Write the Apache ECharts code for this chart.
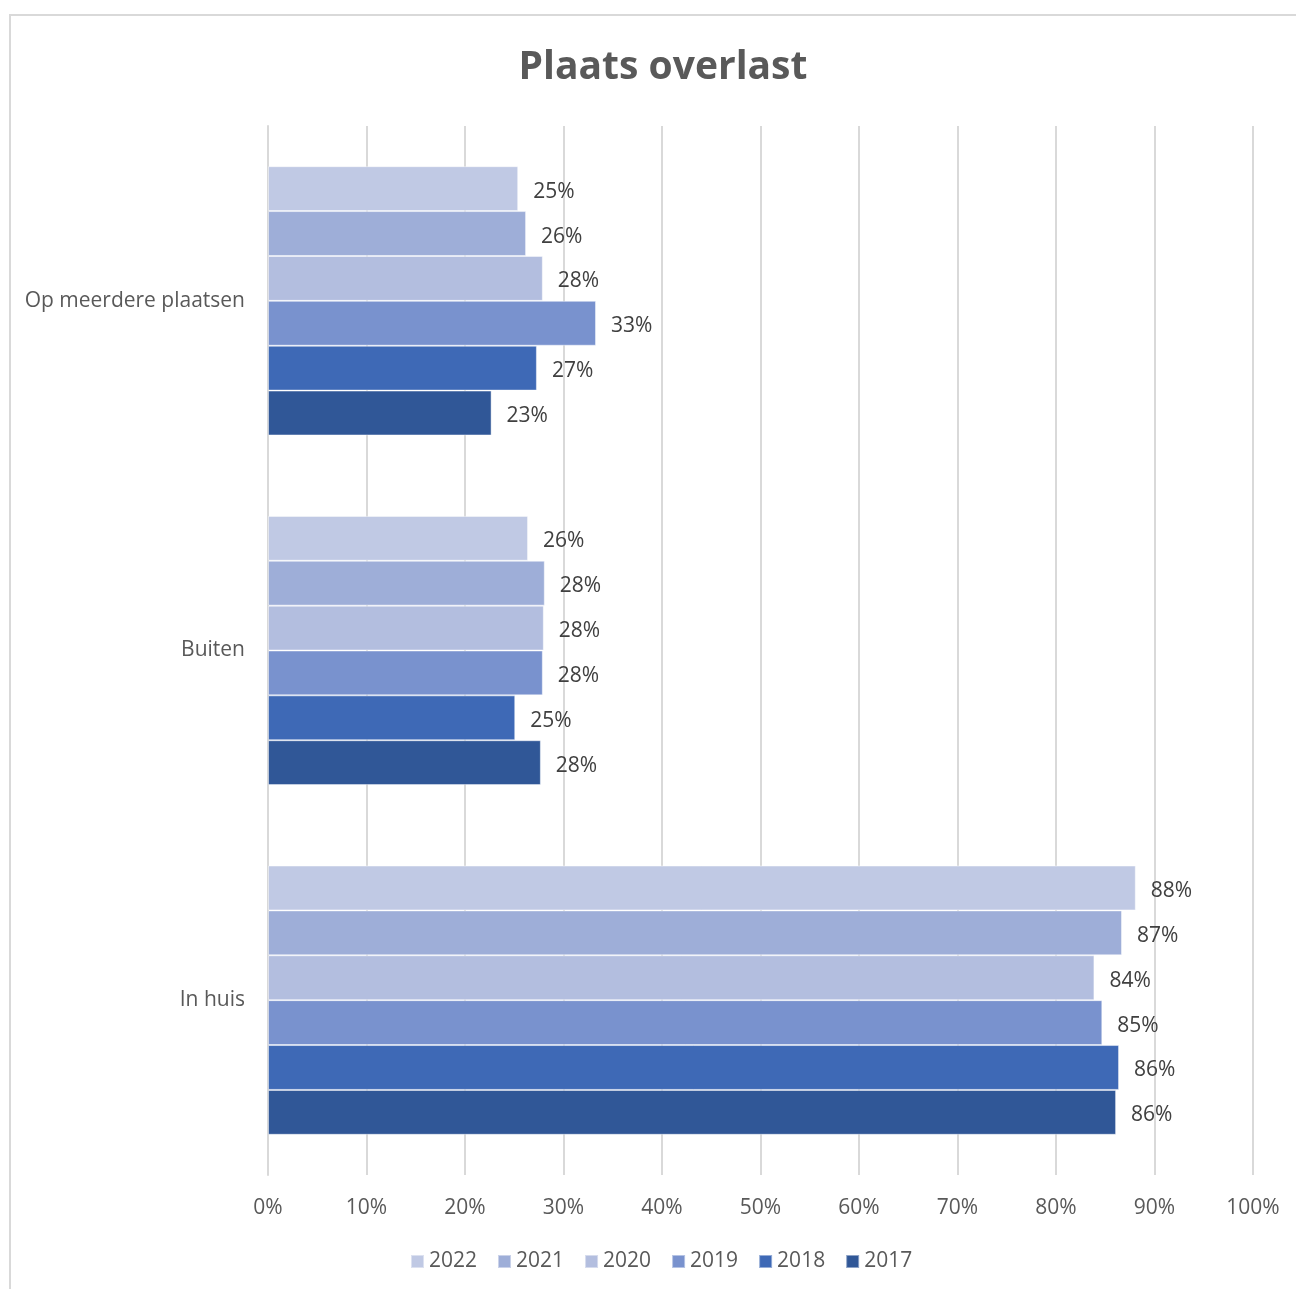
<!DOCTYPE html>
<html>
<head>
<meta charset="utf-8">
<script src="https://cdn.jsdelivr.net/npm/echarts@6/dist/echarts.min.js"></script>
<style>
html,body{margin:0;padding:0;background:#fff;}
#chart{width:1296px;height:1289px;}
</style>
</head>
<body>
<div id="chart"></div>
<script>
const categories = ['In huis', 'Buiten', 'Op meerdere plaatsen'];
const years = ['2022', '2021', '2020', '2019', '2018', '2017'];
const v2022 = [88.1, 26.4, 25.4];
const v2021 = [86.7, 28.1, 26.2];
const v2020 = [83.9, 28.0, 27.9];
const v2019 = [84.7, 27.9, 33.3];
const v2018 = [86.4, 25.1, 27.3];
const v2017 = [86.1, 27.7, 22.7];
const xTicks = [0, 10, 20, 30, 40, 50, 60, 70, 80, 90, 100];

const valuesByYear = {'2022': v2022, '2021': v2021, '2020': v2020, '2019': v2019, '2018': v2018, '2017': v2017};
const colors = {'2022': '#C0C9E4', '2021': '#9EAED8', '2020': '#B3BEDF', '2019': '#7992CE', '2018': '#3E69B6', '2017': '#305797'};
const FONT = '"Open Sans", "Noto Sans", sans-serif';

const series = years.map(y => ({
  name: y,
  type: 'bar',
  data: valuesByYear[y],
  barGap: '0%',
  barCategoryGap: '23%',
  itemStyle: { color: colors[y], borderColor: 'rgba(255,255,255,0.45)', borderWidth: 1 },
  label: {
    show: true, position: 'right', distance: 15, offset: [0, 3],
    color: '#404040', fontSize: 21, fontFamily: FONT,
    formatter: p => Math.round(p.value) + '%'
  }
}));

const chart = echarts.init(document.getElementById('chart'));
chart.setOption({
  animation: false,
  backgroundColor: '#fff',
  color: years.map(y => colors[y]),
  title: {
    text: 'Plaats overlast', left: 658, top: 43, textAlign: 'center',
    textStyle: { fontSize: 39, fontWeight: 'bold', color: '#595959', fontFamily: FONT }
  },
  graphic: [{
    type: 'rect', shape: { x: 10, y: 15, width: 1400, height: 1400 },
    style: { fill: 'none', stroke: '#D9D9D9', lineWidth: 2 }, silent: true, z: -10
  }],
  legend: {
    data: years, top: 1246, left: 405,
    icon: 'rect', itemWidth: 13, itemHeight: 13, itemGap: 20,
    textStyle: { fontSize: 21, color: '#595959', fontFamily: FONT }
  },
  grid: { left: 268, right: 43, top: 126, bottom: 114, containLabel: false },
  xAxis: {
    type: 'value', min: xTicks[0], max: xTicks[xTicks.length - 1], interval: 10,
    axisLine: { show: false }, axisTick: { show: false },
    splitLine: { show: true, lineStyle: { color: '#D9D9D9', width: 2 } },
    axisLabel: { color: '#595959', fontSize: 21, fontFamily: FONT, margin: 23, formatter: '{value}%' }
  },
  yAxis: {
    type: 'category', data: categories,
    axisLine: { show: true, lineStyle: { color: '#D9D9D9', width: 2 } },
    axisTick: { show: false },
    axisLabel: { color: '#595959', fontSize: 21, fontFamily: FONT, margin: 23 }
  },
  series: series
});
</script>
</body>
</html>
